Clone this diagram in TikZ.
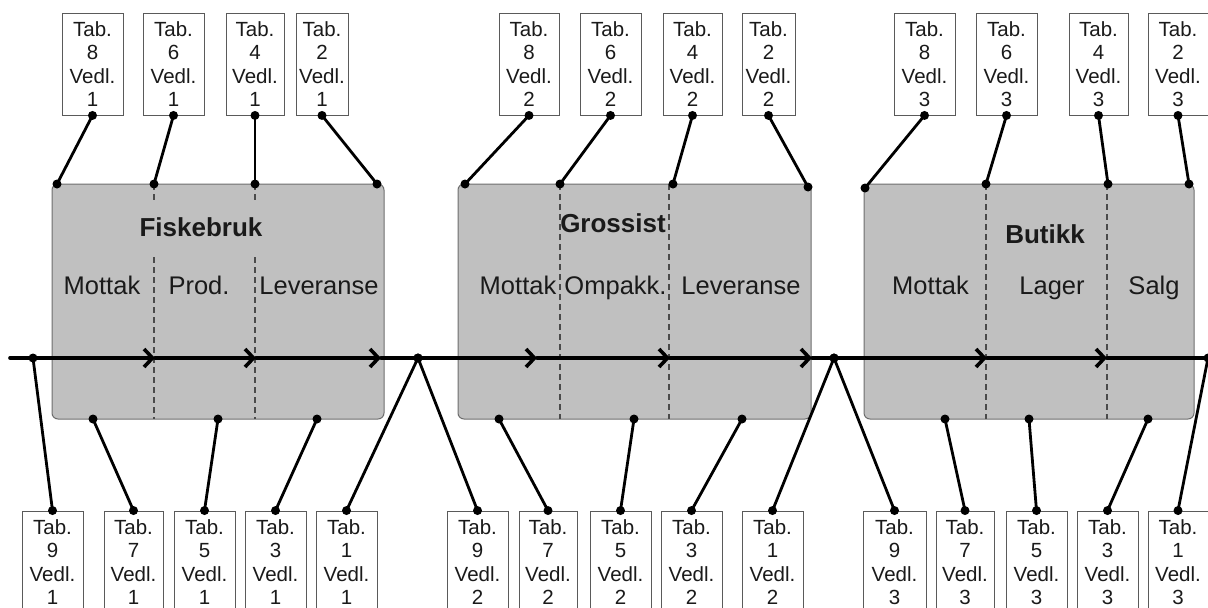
\documentclass[tikz,border=0pt]{standalone}
\usepackage{fontspec}
\setmainfont{Liberation Sans}
\usetikzlibrary{arrows.meta}
\definecolor{stagefill}{HTML}{C0C0C0}
\definecolor{stageedge}{HTML}{6E6E6E}
\definecolor{tabedge}{HTML}{5A5A5A}
\definecolor{divcol}{HTML}{4A4A4A}
\definecolor{ink}{HTML}{1A1A1A}
\begin{document}
\begin{tikzpicture}[x=1pt, y=-1pt,
 tabbox/.style={draw=tabedge, line width=0.9pt, fill=white, minimum height=102pt, inner sep=0pt, align=center, text=ink, font=\fontsize{20.5}{23.4}\selectfont},
 stagebox/.style={draw=stageedge, line width=1pt, fill=stagefill, rounded corners=6pt, minimum height=235pt, inner sep=0pt},
 stagetitle/.style={anchor=base, font=\fontsize{26}{30}\selectfont\bfseries, text=ink, inner sep=0pt},
 phase/.style={anchor=base, font=\fontsize{25.5}{28}\selectfont, text=ink, inner sep=0pt},
 divider/.style={draw=divcol, line width=1.1pt, dash pattern=on 6pt off 4pt},
 flow/.style={line width=3.6pt, line cap=round, -{Straight Barb[length=8.5pt,width=18pt]}},
 flowline/.style={line width=3.6pt, line cap=round},
 conn/.style={line width=2.8pt, line cap=round},
]
\useasboundingbox (0,0) rectangle (1208,608);
\clip (0,0) rectangle (1208,608);

% stage boxes
\node[stagebox, minimum width=332pt] (fisk) at (218,301.5) {};
\node[stagebox, minimum width=353pt] (gross) at (634.5,301.5) {};
\node[stagebox, minimum width=330pt] (butikk) at (1029,301.5) {};

\foreach \xd in {154,255}{
  \draw[divider] (\xd,184) -- (\xd,200);
  \draw[divider] (\xd,257) -- (\xd,419);
}
\foreach \xd in {560,669,986,1107}
  \draw[divider] (\xd,184) -- (\xd,419);

% labels
\node[stagetitle] (tf) at (201,236) {Fiskebruk};
\node[phase] (f1) at (102,294) {Mottak};
\node[phase] (f2) at (199,294) {Prod.};
\node[phase] (f3) at (319,294) {Leveranse};
\node[stagetitle] (tg) at (613,232) {Grossist};
\node[phase] (g1) at (518,294) {Mottak};
\node[phase] (g2) at (615.5,294) {Ompakk.};
\node[phase] (g3) at (741,294) {Leveranse};
\node[stagetitle] (tb) at (1045,243) {Butikk};
\node[phase] (b1) at (930.5,294) {Mottak};
\node[phase] (b2) at (1052,294) {Lager};
\node[phase] (b3) at (1154,294) {Salg};

% coordinates on stage boxes
\coordinate (ft1) at (57,184);  \coordinate (ft2) at (154,184); \coordinate (ft3) at (255,184); \coordinate (ft4) at (377,184);
\coordinate (fb1) at (93,419);  \coordinate (fb2) at (218,419); \coordinate (fb3) at (317,419);
\coordinate (gt1) at (465,184); \coordinate (gt2) at (560,184); \coordinate (gt3) at (673,184); \coordinate (gt4) at (808,187);
\coordinate (gb1) at (499,419); \coordinate (gb2) at (634,419); \coordinate (gb3) at (742,419);
\coordinate (bt1) at (865,188); \coordinate (bt2) at (986,184); \coordinate (bt3) at (1108,184); \coordinate (bt4) at (1189,184);
\coordinate (bb1) at (945,419); \coordinate (bb2) at (1029,419); \coordinate (bb3) at (1148,419);
% main line
\coordinate (m0) at (10,358);  \coordinate (m1) at (33,358);
\coordinate (a1) at (155,358); \coordinate (a2) at (256,358); \coordinate (a3) at (381,358);
\coordinate (m2) at (418,358);
\coordinate (a4) at (537,358); \coordinate (a5) at (670,358); \coordinate (a6) at (812,358);
\coordinate (m3) at (834,358);
\coordinate (a7) at (987,358); \coordinate (a8) at (1107,358);
\coordinate (m4) at (1208,358);

\draw[flow] (m0) -- (a1);
\draw[flow] (a1) -- (a2);
\draw[flow] (a2) -- (a3);
\draw[flowline] (a3) -- (m2);
\draw[flow] (m2) -- (a4);
\draw[flow] (a4) -- (a5);
\draw[flow] (a5) -- (a6);
\draw[flowline] (a6) -- (m3);
\draw[flow] (m3) -- (a7);
\draw[flow] (a7) -- (a8);
\draw[flowline] (a8) -- (m4);

% top tab boxes
\foreach \n/\x/\w/\tn/\vn in {t81/92.5/61/8/1, t61/173.5/61/6/1, t41/255/58/4/1, t21/322/52/2/1,
  t82/529/60/8/2, t62/610.5/61/6/2, t42/692.5/59/4/2, t22/768.5/53/2/2,
  t83/924.5/61/8/3, t63/1006.5/61/6/3, t43/1098.5/59/4/3, t23/1178/60/2/3}
  \node[tabbox, minimum width=\w pt] (\n) at (\x,64) {Tab.\\\tn\\Vedl.\\\vn};

% bottom tab boxes
\foreach \n/\x/\w/\tn/\vn in {b91/52.5/61/9/1, b71/133.5/59/7/1, b51/204.5/61/5/1, b31/275.5/61/3/1, b11/346.5/61/1/1,
  b92/477.5/61/9/2, b72/548/58/7/2, b52/620.5/61/5/2, b32/691.5/61/3/2, b12/772.5/61/1/2,
  b93/894.5/63/9/3, b73/965/58/7/3, b53/1036.5/61/5/3, b33/1107.5/61/3/3, b13/1178/60/1/3}
  \node[tabbox, minimum width=\w pt] (\n) at (\x,562) {Tab.\\\tn\\Vedl.\\\vn};

% connectors
\foreach \s/\e in {t81/ft1, t61/ft2, t41/ft3, t21/ft4, t82/gt1, t62/gt2, t42/gt3, t22/gt4, t83/bt1, t63/bt2, t43/bt3, t23/bt4}{
  \draw[conn] (\s.south) -- (\e);
  \fill (\s.south) circle (4.5pt);
  \fill (\e) circle (4.5pt);
}
\foreach \s/\e in {b91/m1, b71/fb1, b51/fb2, b31/fb3, b11/m2, b92/m2, b72/gb1, b52/gb2, b32/gb3, b12/m3, b93/m3, b73/bb1, b53/bb2, b33/bb3, b13/m4}{
  \draw[conn] (\s.north) -- (\e);
  \fill (\s.north) circle (4.5pt);
  \fill (\e) circle (4.5pt);
}
\end{tikzpicture}
\end{document}
